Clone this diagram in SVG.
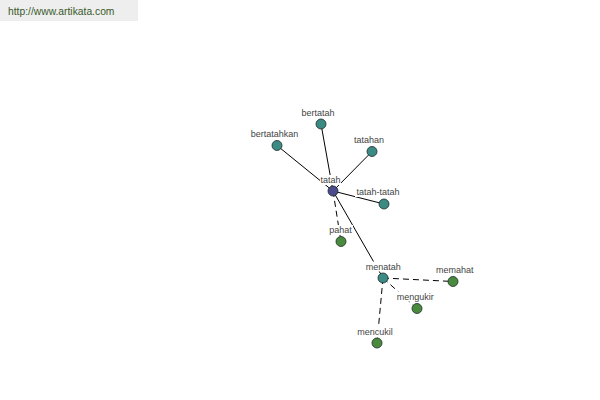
<svg xmlns="http://www.w3.org/2000/svg" width="600" height="400" viewBox="0 0 600 400">
<style>
.edge{stroke:#000;stroke-width:1;fill:none}
.dash{stroke-dasharray:6,4}
.lbl{font-family:"Liberation Sans",Arial,sans-serif;font-size:9px;fill:#444;text-anchor:middle}
.bg{fill:#fff}
.node{stroke:#1a2a2a;stroke-width:0.8}
.root{fill:#4a4a8c}
.teal{fill:#3c8a84}
.green{fill:#4a8a3c}
</style>
<rect x="0" y="0" width="600" height="400" fill="#fff"/>
<rect x="0" y="0" width="138" height="21" fill="#eeeeee"/>
<text x="8" y="15" font-family="'Liberation Sans',Arial,sans-serif" font-size="10.3" fill="#3a5a2a">http://www.artikata.com</text>
<g id="connectors">
<line class="edge" x1="333" y1="191" x2="321" y2="124"/>
<line class="edge" x1="333" y1="191" x2="277" y2="145.5"/>
<line class="edge" x1="333" y1="191" x2="372" y2="151.5"/>
<line class="edge" x1="333" y1="191" x2="384" y2="204"/>
<line class="edge" x1="333" y1="191" x2="383" y2="278"/>
<line class="edge dash" x1="333" y1="191" x2="341" y2="241.5"/>
<line class="edge dash" x1="383" y1="278" x2="453" y2="281.5"/>
<line class="edge dash" x1="383" y1="278" x2="417" y2="308.5"/>
<line class="edge dash" x1="383" y1="278" x2="377" y2="343"/>
</g>
<g id="node-tatah"><rect class="bg" x="320" y="175" width="21" height="10"/><text class="lbl" x="330.5" y="183">tatah</text><circle class="node root" cx="333" cy="191" r="5"/></g>
<g id="node-bertatah"><rect class="bg" x="300" y="108" width="36" height="10"/><text class="lbl" x="318" y="116">bertatah</text><circle class="node teal" cx="321" cy="124" r="5"/></g>
<g id="node-bertatahkan"><rect class="bg" x="251" y="129" width="47" height="10"/><text class="lbl" x="274.5" y="137">bertatahkan</text><circle class="node teal" cx="277" cy="145.5" r="5"/></g>
<g id="node-tatahan"><rect class="bg" x="353" y="135" width="32" height="10"/><text class="lbl" x="369" y="143">tatahan</text><circle class="node teal" cx="372" cy="151.5" r="5"/></g>
<g id="node-tatah-tatah"><rect class="bg" x="355" y="187" width="46" height="10"/><text class="lbl" x="378" y="195">tatah-tatah</text><circle class="node teal" cx="384" cy="204" r="5"/></g>
<g id="node-pahat"><rect class="bg" x="328" y="225" width="25" height="10"/><text class="lbl" x="340.5" y="233">pahat</text><circle class="node green" cx="341" cy="241.5" r="5"/></g>
<g id="node-menatah"><rect class="bg" x="365" y="261.5" width="37" height="10"/><text class="lbl" x="383.3" y="269.5">menatah</text><circle class="node teal" cx="383" cy="278" r="5"/></g>
<g id="node-memahat"><rect class="bg" x="435" y="265" width="40" height="10"/><text class="lbl" x="454.7" y="273">memahat</text><circle class="node green" cx="453" cy="281.5" r="5"/></g>
<g id="node-mengukir"><rect class="bg" x="396" y="291.5" width="39" height="10"/><text class="lbl" x="415.3" y="299.5">mengukir</text><circle class="node green" cx="417" cy="308.5" r="5"/></g>
<g id="node-mencukil"><rect class="bg" x="356" y="326.5" width="38" height="10"/><text class="lbl" x="375" y="334.5">mencukil</text><circle class="node green" cx="377" cy="343" r="5"/></g>
</svg>
